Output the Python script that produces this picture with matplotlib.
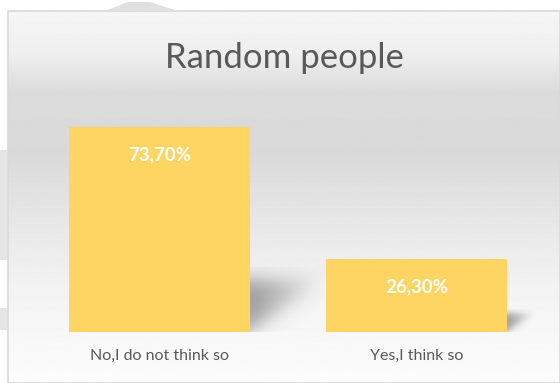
import numpy as np
import matplotlib
matplotlib.use("Agg")
import matplotlib.pyplot as plt
from matplotlib.patches import Rectangle, Polygon

# data
categories = ["No,I do not think so", "Yes,I think so"]
values = [73.70, 26.30]
value_labels = ["73,70%", "26,30%"]
title = "Random people"

W, H = 560, 383
bar_color = "#FED563"
font = ["Lato", "DejaVu Sans"]

fig = plt.figure(figsize=(W / 100, H / 100), dpi=100)
fig.patch.set_facecolor("white")

# chart area (pixels) -> figure fraction
left_px, top_px = 8, 11
ax = fig.add_axes([left_px / W, 0, (W - left_px) / W, (H - top_px) / H])

# scales: bar centres at 159.5 and 416.5 px, baseline at y=332 px
px_per_cat = 257.0
px_per_val = 205.0 / 73.7
base_px = 332
x0 = (left_px - 159.5) / px_per_cat
x1 = (W - 159.5) / px_per_cat
y0 = -(H - base_px) / px_per_val
y1 = (base_px - top_px) / px_per_val
ax.set_xlim(x0, x1)
ax.set_ylim(y0, y1)
ax.axis("off")

# vertical background gradient
stops_y = [0.0, 0.25, 0.45, 0.62, 0.78, 0.88, 1.0]
stops_v = [252, 243, 230, 217, 219, 238, 246]
yy = np.linspace(0, 1, 400)
g = np.interp(yy, stops_y, stops_v) / 255.0
grad = np.repeat(g[:, None], 2, axis=1)
ax.imshow(grad, cmap="gray", vmin=0, vmax=1, aspect="auto",
          extent=[0, 1, 1, 0], transform=ax.transAxes, zorder=0)

# border
ax.add_patch(Rectangle((0, 0), 1, 1, transform=ax.transAxes, fill=False,
                       edgecolor="#d9d9d9", linewidth=1.2, zorder=1, clip_on=False))

bar_w = 181.0 / px_per_cat
xs = np.arange(len(categories))

# soft shadows to the right of each bar
for x, v in zip(xs, values):
    L = 0.33 * v * px_per_val / px_per_cat   # horizontal extent
    hs = 0.25 * v                             # vertical extent
    nx, ny = 160, 160
    u = np.linspace(-0.05, 1.2, nx)[None, :]
    w = np.linspace(1.25, -0.05, ny)[:, None]
    inside_top = 1 / (1 + np.exp(-(1.0 - w) * 9))
    inside_diag = 1 / (1 + np.exp(-(w - u * 0.9) * 7))
    fade = np.clip(1.1 - u, 0, 1) ** 0.8
    a = inside_top * inside_diag * fade * 0.6
    img = np.zeros((ny, nx, 4))
    img[..., :3] = 0.42
    img[..., 3] = a
    ax.imshow(img, aspect="auto", zorder=2,
              extent=[x + bar_w / 2 - 0.05 * L, x + bar_w / 2 + 1.2 * L,
                      0, hs * 1.25])

ax.bar(xs, values, width=bar_w, color=bar_color, zorder=3)

for x, v, lab in zip(xs, values, value_labels):
    ax.text(x, v - 28 / px_per_val, lab, ha="center", va="center",
            color="white", fontsize=13.5, fontweight="bold", family=font, zorder=4)

for x, c in zip(xs, categories):
    ax.text(x, -24 / px_per_val, c, ha="center", va="center",
            color="#595959", fontsize=11.5, family=font, zorder=4)

ax.text(0.5, 1 - 47 / (H - top_px), title, transform=ax.transAxes,
        ha="center", va="center", color="#595959", fontsize=25, family=font, zorder=4)

# faint watermark fragments outside the chart frame
fig.patches.append(Polygon([(105 / W, 1 - top_px / H), (128 / W, 1 - 2 / H),
                            (150 / W, 1 - 2 / H), (178 / W, 1 - top_px / H)],
                           closed=True, transform=fig.transFigure,
                           facecolor="#e0e0e0", edgecolor="none"))
fig.patches.append(Rectangle((0, 1 - 260 / H), 7 / W, 110 / H,
                             transform=fig.transFigure,
                             facecolor="#e4e4e4", edgecolor="none"))
fig.patches.append(Rectangle((0, 1 - 330 / H), 7 / W, 22 / H,
                             transform=fig.transFigure,
                             facecolor="#e4e4e4", edgecolor="none"))

fig.savefig("out.png", dpi=100)
